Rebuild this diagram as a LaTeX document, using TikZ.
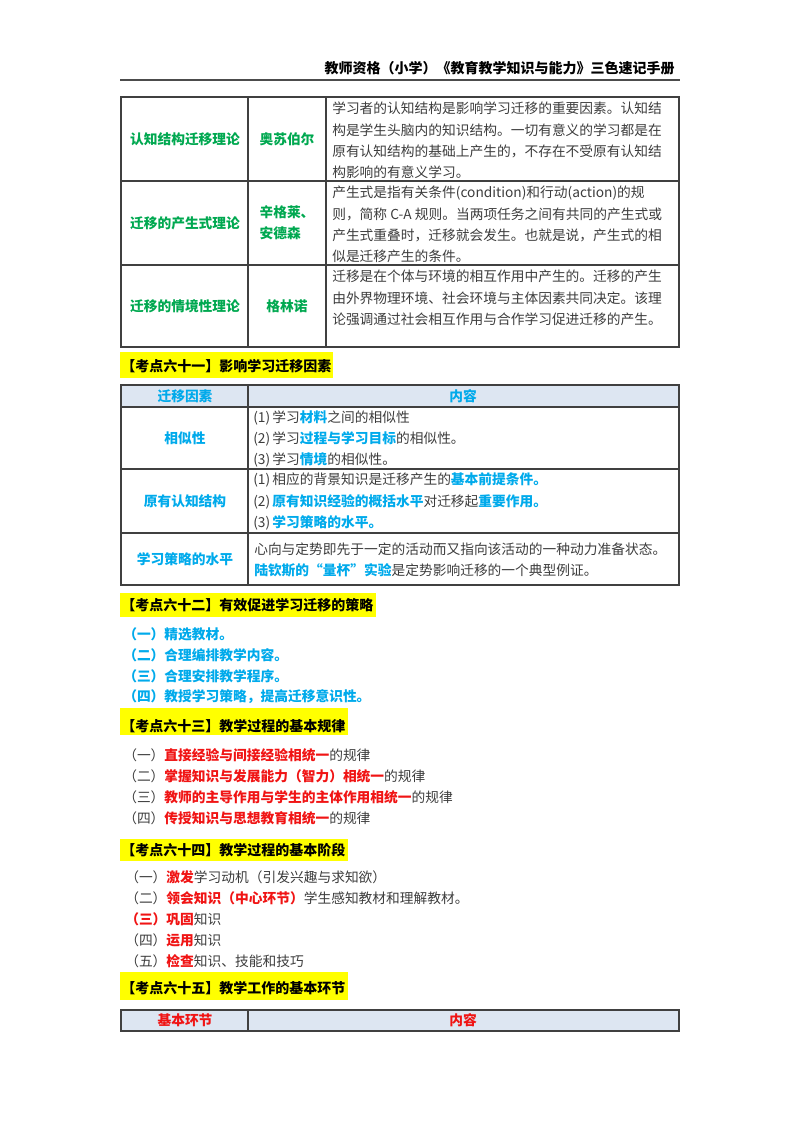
\documentclass[tikz,border=0pt]{standalone}
\usepackage{fontspec}
\setmainfont{Noto Sans CJK SC}
\definecolor{grn}{RGB}{0,168,80}
\definecolor{blu}{RGB}{0,170,235}
\definecolor{rd}{RGB}{240,20,20}
\definecolor{hdr}{RGB}{221,230,242}
\definecolor{ylw}{RGB}{255,255,0}
\definecolor{gr}{RGB}{60,60,60}
\begin{document}
\begin{tikzpicture}[x=0.75pt,y=-0.75pt,
  txt/.style={inner sep=0pt,anchor=west,text=gr,font=\fontsize{10.3pt}{15.6pt}\selectfont},
  cell/.style={inner sep=0pt,align=center,font=\bfseries\fontsize{10.3pt}{15.6pt}\selectfont},
  head/.style={inner sep=0pt,anchor=west,font=\bfseries\fontsize{10.5pt}{13pt}\selectfont},
  hl/.style={fill=ylw,draw=none},
  grid/.style={draw=black!75,line width=0.8pt}]
\useasboundingbox (0,0) rectangle (800,1132);
% header
\node[inner sep=0pt,anchor=east,font=\bfseries\fontsize{10.5pt}{13pt}\selectfont] (hd) at (675,68) {教师资格（小学）《教育教学知识与能力》三色速记手册};
\draw[line width=1pt,black!70] (120,80) -- (680,80);
% table 1
\draw[grid] (121,97) rectangle (679,347);
\draw[grid] (248,97) -- (248,347) (326,97) -- (326,347) (121,181) -- (679,181) (121,265) -- (679,265);
\node[cell,text=grn] (a1) at (185,139) {认知结构迁移理论};
\node[cell,text=grn] (b1) at (287,139) {奥苏伯尔};
\node[cell,text=grn] (a2) at (185,223) {迁移的产生式理论};
\node[cell,text=grn,align=left] (b2) at (287,223) {辛格莱、\\安德森};
\node[cell,text=grn] (a3) at (185,306) {迁移的情境性理论};
\node[cell,text=grn] (b3) at (287,306) {格林诺};
\node[txt,anchor=north west,align=left,font=\fontsize{10.3pt}{15.9pt}\selectfont] (c1) at (332,102) {学习者的认知结构是影响学习迁移的重要因素。认知结\\构是学生头脑内的知识结构。一切有意义的学习都是在\\原有认知结构的基础上产生的，不存在不受原有认知结\\构影响的有意义学习。};
\node[txt,anchor=north west,align=left,font=\fontsize{10.3pt}{15.9pt}\selectfont] (c2) at (332,186) {产生式是指有关条件(condition)和行动(action)的规\\则，简称 C-A 规则。当两项任务之间有共同的产生式或\\产生式重叠时，迁移就会发生。也就是说，产生式的相\\似是迁移产生的条件。};
\node[txt,anchor=north west,align=left,font=\fontsize{10.3pt}{15.9pt}\selectfont] (c3) at (332,270) {迁移是在个体与环境的相互作用中产生的。迁移的产生\\由外界物理环境、社会环境与主体因素共同决定。该理\\论强调通过社会相互作用与合作学习促进迁移的产生。};
% heading 61
\fill[hl] (120,352) rectangle (333,378);
\node[head] (h61) at (121,366) {【考点六十一】影响学习迁移因素};
% table 2
\fill[hdr] (121,385) rectangle (679,407);
\draw[grid] (121,385) rectangle (679,585);
\draw[grid] (248,385) -- (248,585) (121,407) -- (679,407) (121,469) -- (679,469) (121,533) -- (679,533);
\node[cell,text=blu] (t1) at (185,396) {迁移因素};
\node[cell,text=blu] (t2) at (463,396) {内容};
\node[cell,text=blu] (r1) at (185,438) {相似性};
\node[cell,text=blu] (r2) at (185,501) {原有认知结构};
\node[cell,text=blu] (r3) at (185,559) {学习策略的水平};
\node[txt] (s1) at (253,418) {(1)\,学习\textbf{\color{blu}材料}之间的相似性};
\node[txt] (s2) at (253,439) {(2)\,学习\textbf{\color{blu}过程与学习目标}的相似性。};
\node[txt] (s3) at (253,460) {(3)\,学习\textbf{\color{blu}情境}的相似性。};
\node[txt] (s4) at (253,480) {(1)\,相应的背景知识是迁移产生的\textbf{\color{blu}基本前提条件。}};
\node[txt] (s5) at (253,502) {(2)\,\textbf{\color{blu}原有知识经验的概括水平}对迁移起\textbf{\color{blu}重要作用。}};
\node[txt] (s6) at (253,523) {(3)\,\textbf{\color{blu}学习策略的水平。}};
\node[txt] (s7) at (254,549) {心向与定势即先于一定的活动而又指向该活动的一种动力准备状态。};
\node[txt] (s8) at (254,570) {\textbf{\color{blu}陆钦斯的“量杯”实验}是定势影响迁移的一个典型例证。};
% heading 62
\fill[hl] (120,593) rectangle (376,617);
\node[head] (h62) at (121,605) {【考点六十二】有效促进学习迁移的策略};
\node[txt,text=blu,font=\bfseries\fontsize{10.3pt}{13pt}\selectfont] (p1) at (123,634) {（一）精选教材。};
\node[txt,text=blu,font=\bfseries\fontsize{10.3pt}{13pt}\selectfont] (p2) at (123,655) {（二）合理编排教学内容。};
\node[txt,text=blu,font=\bfseries\fontsize{10.3pt}{13pt}\selectfont] (p3) at (123,676) {（三）合理安排教学程序。};
\node[txt,text=blu,font=\bfseries\fontsize{10.3pt}{13pt}\selectfont] (p4) at (123,697) {（四）教授学习策略，提高迁移意识性。};
% heading 63
\fill[hl] (120,708) rectangle (348,735);
\node[head] (h63) at (121,726) {【考点六十三】教学过程的基本规律};
\node[txt] (q1) at (123,755) {（一）\textbf{\color{rd}直接经验与间接经验相统一}的规律};
\node[txt] (q2) at (123,776) {（二）\textbf{\color{rd}掌握知识与发展能力（智力）相统一}的规律};
\node[txt] (q3) at (123,797) {（三）\textbf{\color{rd}教师的主导作用与学生的主体作用相统一}的规律};
\node[txt] (q4) at (123,818) {（四）\textbf{\color{rd}传授知识与思想教育相统一}的规律};
% heading 64
\fill[hl] (120,839) rectangle (348,861);
\node[head] (h64) at (121,850) {【考点六十四】教学过程的基本阶段};
\node[txt] (u1) at (125,877) {（一）\textbf{\color{rd}激发}学习动机（引发兴趣与求知欲）};
\node[txt] (u2) at (125,898) {（二）\textbf{\color{rd}领会知识（中心环节）}学生感知教材和理解教材。};
\node[txt] (u3) at (125,919) {\textbf{\color{rd}（三）巩固}知识};
\node[txt] (u4) at (125,940) {（四）\textbf{\color{rd}运用}知识};
\node[txt] (u5) at (125,961) {（五）\textbf{\color{rd}检查}知识、技能和技巧};
% heading 65
\fill[hl] (120,972) rectangle (348,1000);
\node[head] (h65) at (121,988) {【考点六十五】教学工作的基本环节};
% table 3
\fill[hdr] (121,1010) rectangle (679,1031);
\draw[grid] (121,1010) rectangle (679,1031);
\draw[grid] (248,1010) -- (248,1031);
\node[cell,text=rd] (v1) at (185,1020) {基本环节};
\node[cell,text=rd] (v2) at (463,1020) {内容};
\end{tikzpicture}
\end{document}
